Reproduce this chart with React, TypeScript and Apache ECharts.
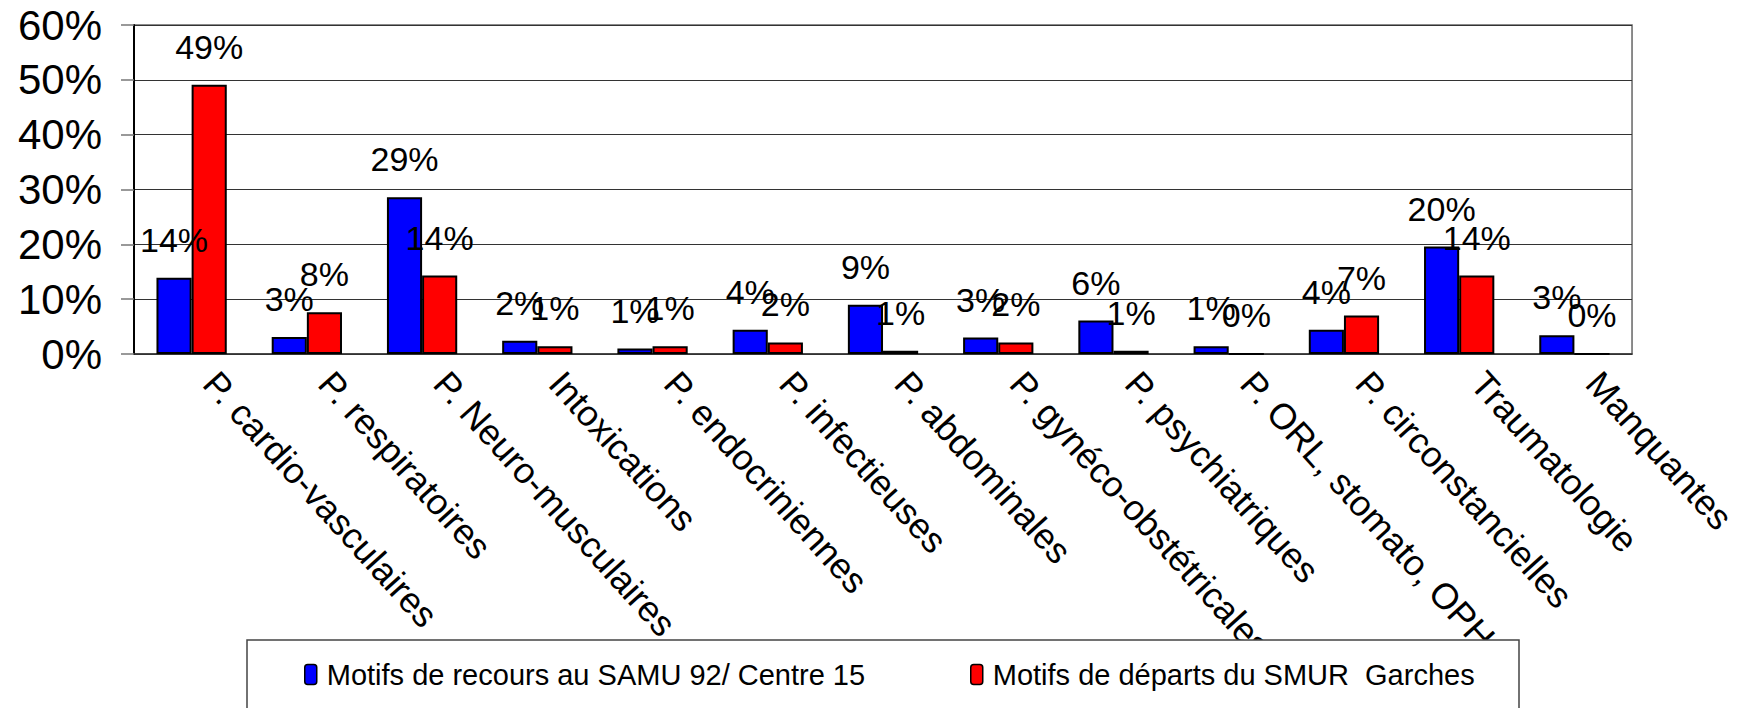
import React, { useEffect, useRef } from "react";
import * as echarts from "echarts";

const categories = [
  "P. cardio-vasculaires",
  "P. respiratoires",
  "P. Neuro-musculaires",
  "Intoxications",
  "P. endocriniennes",
  "P. infectieuses",
  "P. abdominales",
  "P. gynéco-obstétricales",
  "P. psychiatriques",
  "P. ORL, stomato, OPH",
  "P. circonstancielles",
  "Traumatologie",
  "Manquantes",
];

const seriesNames = [
  "Motifs de recours au SAMU 92/ Centre 15",
  "Motifs de départs du SMUR  Garches",
];

const samuValues = [13.9, 3.1, 28.6, 2.4, 1.0, 4.4, 9.0, 3.0, 6.1, 1.4, 4.4, 19.6, 3.4];
const smurValues = [49.1, 7.6, 14.3, 1.4, 1.4, 2.1, 0.6, 2.1, 0.6, 0, 7.0, 14.3, 0];

const yTicks = [0, 10, 20, 30, 40, 50, 60];

const FONT = "Liberation Sans, Arial, sans-serif";

export default function App() {
  const ref = useRef<HTMLDivElement>(null);

  useEffect(() => {
    if (!ref.current) return;
    const chart = echarts.init(ref.current, null, { renderer: "svg" });
    const labelCfg = {
      show: true,
      position: "top",
      distance: 21,
      fontFamily: FONT,
      fontSize: 34,
      lineHeight: 34,
      color: "#000",
      formatter: (p: any) => Math.round(p.value) + "%",
    };
    const legendCommon = {
      top: 655,
      itemWidth: 12,
      itemHeight: 20,
      itemGap: 10,
      z: 60,
      textStyle: { fontFamily: FONT, fontSize: 29, color: "#000", padding: [0, 0, 0, 5] },
      itemStyle: { borderColor: "#000", borderWidth: 1.5 },
    };
    chart.setOption({
      animation: false,
      backgroundColor: "#fff",
      textStyle: { fontFamily: FONT },
      grid: {
        left: 134,
        right: 106,
        top: 25,
        bottom: 354,
        containLabel: false,
        show: true,
        borderColor: "#666",
        borderWidth: 1.5,
      },
      legend: [
        { ...legendCommon, data: [seriesNames[0]], left: 299 },
        { ...legendCommon, data: [seriesNames[1]], left: 965 },
      ],
      graphic: [
        {
          type: "rect",
          z: 50,
          shape: { x: 247, y: 640, width: 1272, height: 120 },
          style: { fill: "#fff", stroke: "#444", lineWidth: 1.5 },
        },
      ],
      xAxis: {
        type: "category",
        data: categories,
        axisLine: { show: true, lineStyle: { color: "#333", width: 1.5 } },
        axisTick: { show: false },
        axisLabel: {
          interval: 0,
          rotate: -48,
          margin: 2,
          padding: [0, 0, 0, 28],
          fontFamily: FONT,
          fontSize: 36,
          color: "#000",
        },
      },
      yAxis: {
        type: "value",
        min: yTicks[0],
        max: yTicks[yTicks.length - 1],
        interval: 10,
        axisLine: { show: true, lineStyle: { color: "#000", width: 2 } },
        axisTick: { show: true, length: 13, lineStyle: { color: "#777", width: 1.5 } },
        axisLabel: {
          margin: 32,
          fontFamily: FONT,
          fontSize: 42,
          color: "#000",
          formatter: "{value}%",
        },
        splitLine: { show: true, lineStyle: { color: "#333", width: 1.2 } },
      },
      series: [
        {
          name: seriesNames[0],
          type: "bar",
          data: samuValues,
          barGap: "0%",
          barCategoryGap: "39%",
          itemStyle: { color: "#0000FF", borderColor: "#000", borderWidth: 2 },
          label: labelCfg,
        },
        {
          name: seriesNames[1],
          type: "bar",
          data: smurValues,
          itemStyle: { color: "#FF0000", borderColor: "#000", borderWidth: 2 },
          label: labelCfg,
        },
      ],
    });
    return () => chart.dispose();
  }, []);

  return (
    <div
      ref={ref}
      style={{ position: "absolute", left: 0, top: 0, width: 1741, height: 708 }}
    />
  );
}
